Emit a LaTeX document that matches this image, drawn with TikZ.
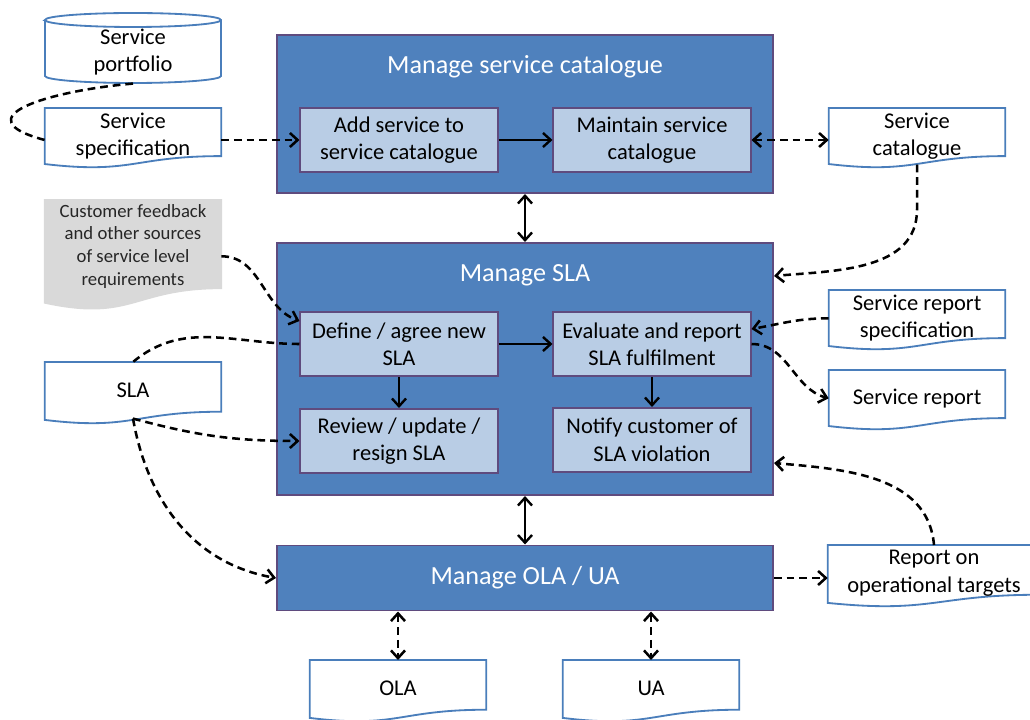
\documentclass[tikz,border=0pt]{standalone}
\usepackage{fontspec}
\setmainfont{Carlito}
\usetikzlibrary{positioning}
\usetikzlibrary{calc,arrows.meta,backgrounds}

\definecolor{boxblue}{HTML}{4F81BD}
\definecolor{boxedge}{HTML}{5F4B7E}
\definecolor{stepfill}{HTML}{B9CDE5}
\definecolor{docedge}{HTML}{4A7EBB}
\definecolor{notegray}{HTML}{D9D9D9}

% wavy document outline below a node, #3 = height in px
\newcommand{\docframe}[3][fill=white]{%
  \draw[docline,#1] (#2.north west) -- (#2.north east)
    -- ($(#2.north east)+(0,{0.802*#3})$)
    .. controls ($(#2.north)+(0,{0.802*#3})$) and ($(#2.north)+(0,{1.107*#3})$)
    .. ($(#2.north west)+(0,{0.934*#3})$) -- cycle;}

\begin{document}
\begin{tikzpicture}[x=0.025cm,y=-0.025cm,
  font=\fontsize{16}{19.5}\selectfont,
  >={Straight Barb[length=5.5pt,width=10pt]},
  mainbox/.style={draw=boxedge,line width=1.4pt,fill=boxblue,inner sep=0pt,minimum width=12.4cm},
  ttl/.style={text=white,font=\fontsize{18.6}{22}\selectfont},
  stepbox/.style={draw=boxedge,line width=1.4pt,fill=stepfill,minimum width=4.925cm,minimum height=1.6cm,align=center,inner sep=0pt},
  doc/.style={minimum width=4.4cm,minimum height=1.4cm,align=center,inner sep=0pt,anchor=north},
  docline/.style={draw=docedge,line width=1.3pt},
  flow/.style={->,line width=1.7pt},
  dflow/.style={line width=1.8pt,dash pattern=on 5.5pt off 3.5pt}]
\useasboundingbox (0,0) rectangle (1030,720);
\clip (0,0) rectangle (1030,720);

\node[mainbox,minimum height=3.95cm] (msc) at (525,114) {};
\node[ttl] (msctitle) at ($(msc.north)+(0,33)$) {Manage service catalogue};
\node[mainbox,minimum height=6.3cm] (msla) at (525,369) {};
\node[ttl] (mslatitle) at ($(msla.north)+(0,33)$) {Manage SLA};
\node[mainbox,ttl,minimum height=1.625cm] (mola) at (525,578) {Manage OLA / UA};

\node[stepbox] (add) at (399,140) {Add service to\\service catalogue};
\node[stepbox] (maint) at (652,140) {Maintain service\\catalogue};
\node[stepbox] (def) at (399,344) {Define / agree new\\SLA};
\node[stepbox] (eval) at (652,344) {Evaluate and report\\SLA fulfilment};
\node[stepbox] (rev) at (399,441) {Review / update /\\resign SLA};
\node[stepbox] (notif) at (652,440) {Notify customer of\\SLA violation};

\node[doc,minimum height=1.55cm] (port) at (133,21) {Service\\portfolio};
\node[doc] (spec) at (133,108) {Service\\specification};
\node[doc,minimum height=2.3cm,text=black!85,font=\fontsize{13.3}{16.2}\selectfont] (cfb) at (133,200)
  {Customer feedback\\and other sources\\of service level\\requirements};
\node[doc] (sla) at (133,362) {SLA};
\node[doc] (scat) at (917,108) {Service\\catalogue};
\node[doc] (srs) at (917,290) {Service report\\specification};
\node[doc] (srep) at (917,370) {Service report};
\node[doc,minimum width=5.3cm] (rot) at (934,545) {Report on\\operational targets};
\node[doc] (ola) at (398,660) {OLA};
\node[doc] (ua) at (651,660) {UA};

\begin{scope}[on background layer]
\clip (0,0) rectangle (1030,720);
\draw[docline,fill=white] (45,20) -- (45,76) arc[start angle=180,end angle=360,x radius=2.2cm,y radius=0.175cm]
  -- (221,20) arc[start angle=0,end angle=180,x radius=2.2cm,y radius=0.175cm] -- cycle;
\draw[docline] (45,20) arc[start angle=180,end angle=360,x radius=2.2cm,y radius=0.175cm];
\foreach \d/\h in {spec/60,sla/62,scat/60,srs/60,srep/60,rot/62,ola/62,ua/62} {\docframe{\d}{\h}}
\docframe[fill=notegray,draw=notegray]{cfb}{110}
\end{scope}

\draw[dflow] (port.south) to[out=185,in=165,looseness=2.1] (spec.west |- add.west);
\draw[dflow,->] (spec.east |- add.west) -- (add.west);
\draw[flow] (add) -- (maint);
\draw[dflow,<->] (maint.east) -- (maint.east -| scat.west);
\draw[flow,<->] (msc) -- (msla);
\draw[dflow,->] (scat.south) -- ++(0,45) to[out=-90,in=5] ($(msla.north east)+(0,34)$);
\draw[dflow,->] ($(cfb.east)+(0,10)$) to[out=0,in=160] ($(def.north west)+(0,10)$);
\draw[dflow] (def.west) to[out=180,in=40] (sla.north);
\draw[dflow,->] (sla.south) to[out=-15,in=180] (rev.west);
\draw[dflow,->] (sla.south) to[out=-80,in=170] (mola.west);
\draw[flow] (def) -- (eval);
\draw[flow] (def) -- (rev);
\draw[flow] (eval) -- (notif);
\draw[dflow,->] (srs.west) to[out=180,in=10] ($(eval.north east)+(0,18)$);
\draw[dflow,->] (eval.east) to[out=0,in=165] (srep.west);
\draw[flow,<->] (msla) -- (mola);
\draw[dflow,->] (mola.east) -- (mola.east -| rot.west);
\draw[dflow,->] (rot.north) to[out=95,in=-5] ($(msla.south east)+(0,-33)$);
\draw[dflow,<->] (ola.north |- mola.south) -- (ola.north);
\draw[dflow,<->] (ua.north |- mola.south) -- (ua.north);
\end{tikzpicture}
\end{document}
